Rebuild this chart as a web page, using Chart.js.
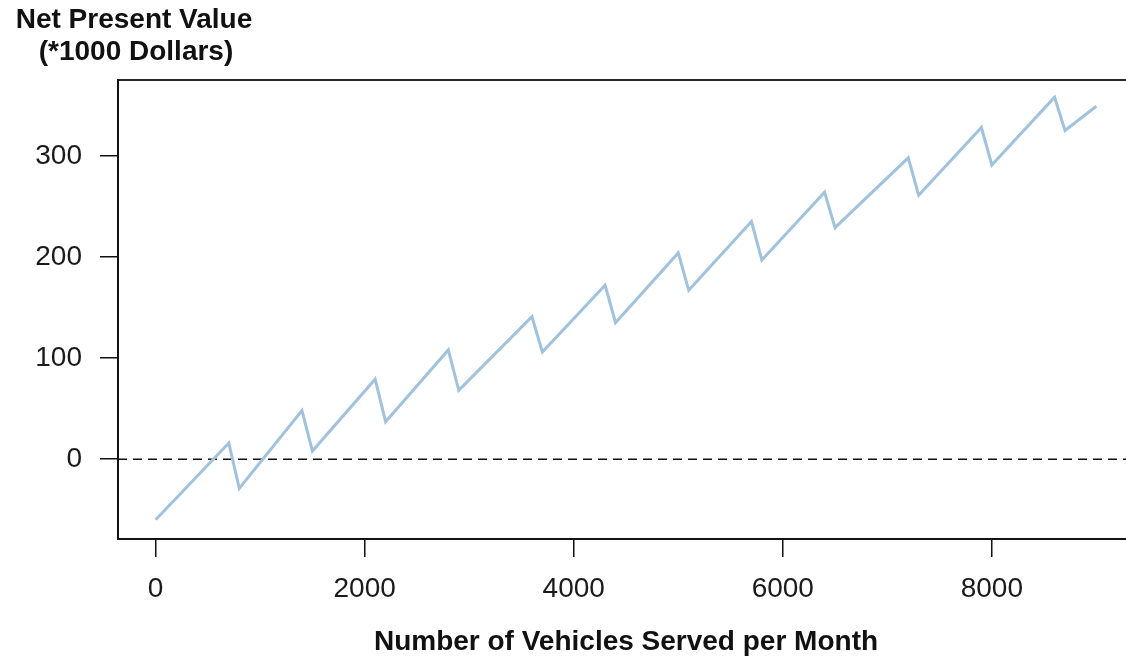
<!DOCTYPE html>
<html>
<head>
<meta charset="utf-8">
<script src="https://cdn.jsdelivr.net/npm/chart.js@4"></script>
<style>
    html, body { margin: 0; padding: 0; background: #fff; overflow: hidden; }
    #wrap { width: 1150px; height: 659px; }
</style>
</head>
<body>
<div id="wrap"><canvas id="npv-chart"></canvas></div>
<script>
// Vertices of the NPV curve (vehicles per month -> NPV in $1000)
const vehicles = [0, 700, 800, 1400, 1500, 2100, 2200, 2800, 2900, 3600, 3700, 4300, 4400,
    5000, 5100, 5700, 5800, 6400, 6500, 7200, 7300, 7900, 8000, 8600, 8700, 9000];
const npv = [-60, 16, -29, 48, 8, 79, 37, 108, 68, 141, 106, 172, 135,
    204, 167, 235, 197, 264, 229, 298, 261, 328, 291, 358, 325, 349];

const xTicks = [0, 2000, 4000, 6000, 8000];
const yTicks = [0, 100, 200, 300];
const xRange = [-360, 9360];
const yRange = [-79, 375];
const breakEven = 0;

const yTitle = ['Net Present Value', '(*1000 Dollars)'];
const xTitle = 'Number of Vehicles Served per Month';

const FONT = '"Liberation Sans", Arial, sans-serif';

// Box around the plot area plus the y-axis caption in the top-left corner
const framePlugin = {
    id: 'frame',
    afterDraw(chart) {
        const { ctx, chartArea: a } = chart;
        ctx.save();
        ctx.strokeStyle = '#111';
        ctx.lineWidth = 1.8;
        ctx.strokeRect(a.left, a.top, a.right - a.left, a.bottom - a.top);
        ctx.fillStyle = '#111';
        ctx.font = `bold 28px ${FONT}`;
        ctx.textAlign = 'center';
        ctx.textBaseline = 'middle';
        ctx.fillText(yTitle[0], 134, 20);
        ctx.fillText(yTitle[1], 136, 52);
        ctx.restore();
    },
};

const axisStyle = {
    border: { display: true, color: '#111', width: 1.8 },
    grid: { drawOnChartArea: false, drawTicks: true, tickLength: 18, color: '#111', lineWidth: 1.5 },
};

new Chart(document.getElementById('npv-chart'), {
    type: 'scatter',
    data: {
        datasets: [
            {
                label: 'NPV',
                data: vehicles.map((v, i) => ({ x: v, y: npv[i] })),
                showLine: true,
                borderColor: '#a0c2dc',
                borderWidth: 3,
                pointRadius: 0,
                tension: 0,
            },
            {
                label: 'Break-even',
                data: xRange.map(v => ({ x: v, y: breakEven })),
                showLine: true,
                borderColor: '#111',
                borderWidth: 1.5,
                borderDash: [9, 6],
                pointRadius: 0,
            },
        ],
    },
    options: {
        responsive: true,
        maintainAspectRatio: false,
        animation: false,
        layout: { padding: { top: 80, right: 16, left: 0, bottom: 0 } },
        plugins: {
            legend: { display: false },
            tooltip: { enabled: false },
        },
        scales: {
            x: {
                type: 'linear',
                min: xRange[0],
                max: xRange[1],
                ...axisStyle,
                afterBuildTicks: (axis) => { axis.ticks = xTicks.map(v => ({ value: v })); },
                afterFit: (scale) => { scale.height = 120; },
                ticks: {
                    color: '#1a1a1a',
                    font: { family: FONT, size: 28 },
                    padding: 15,
                    maxRotation: 0,
                    autoSkip: false,
                    callback: (val) => String(val),
                },
                title: {
                    display: true,
                    text: xTitle,
                    color: '#111',
                    font: { family: FONT, size: 28, weight: 'bold' },
                    padding: { top: 4, bottom: 0 },
                },
            },
            y: {
                type: 'linear',
                min: yRange[0],
                max: yRange[1],
                ...axisStyle,
                afterBuildTicks: (axis) => { axis.ticks = yTicks.map(v => ({ value: v })); },
                afterFit: (scale) => { scale.width = 118; },
                ticks: {
                    color: '#1a1a1a',
                    font: { family: FONT, size: 28 },
                    padding: 18,
                    autoSkip: false,
                    callback: (val) => String(val),
                },
            },
        },
    },
    plugins: [framePlugin],
});
</script>
</body>
</html>
